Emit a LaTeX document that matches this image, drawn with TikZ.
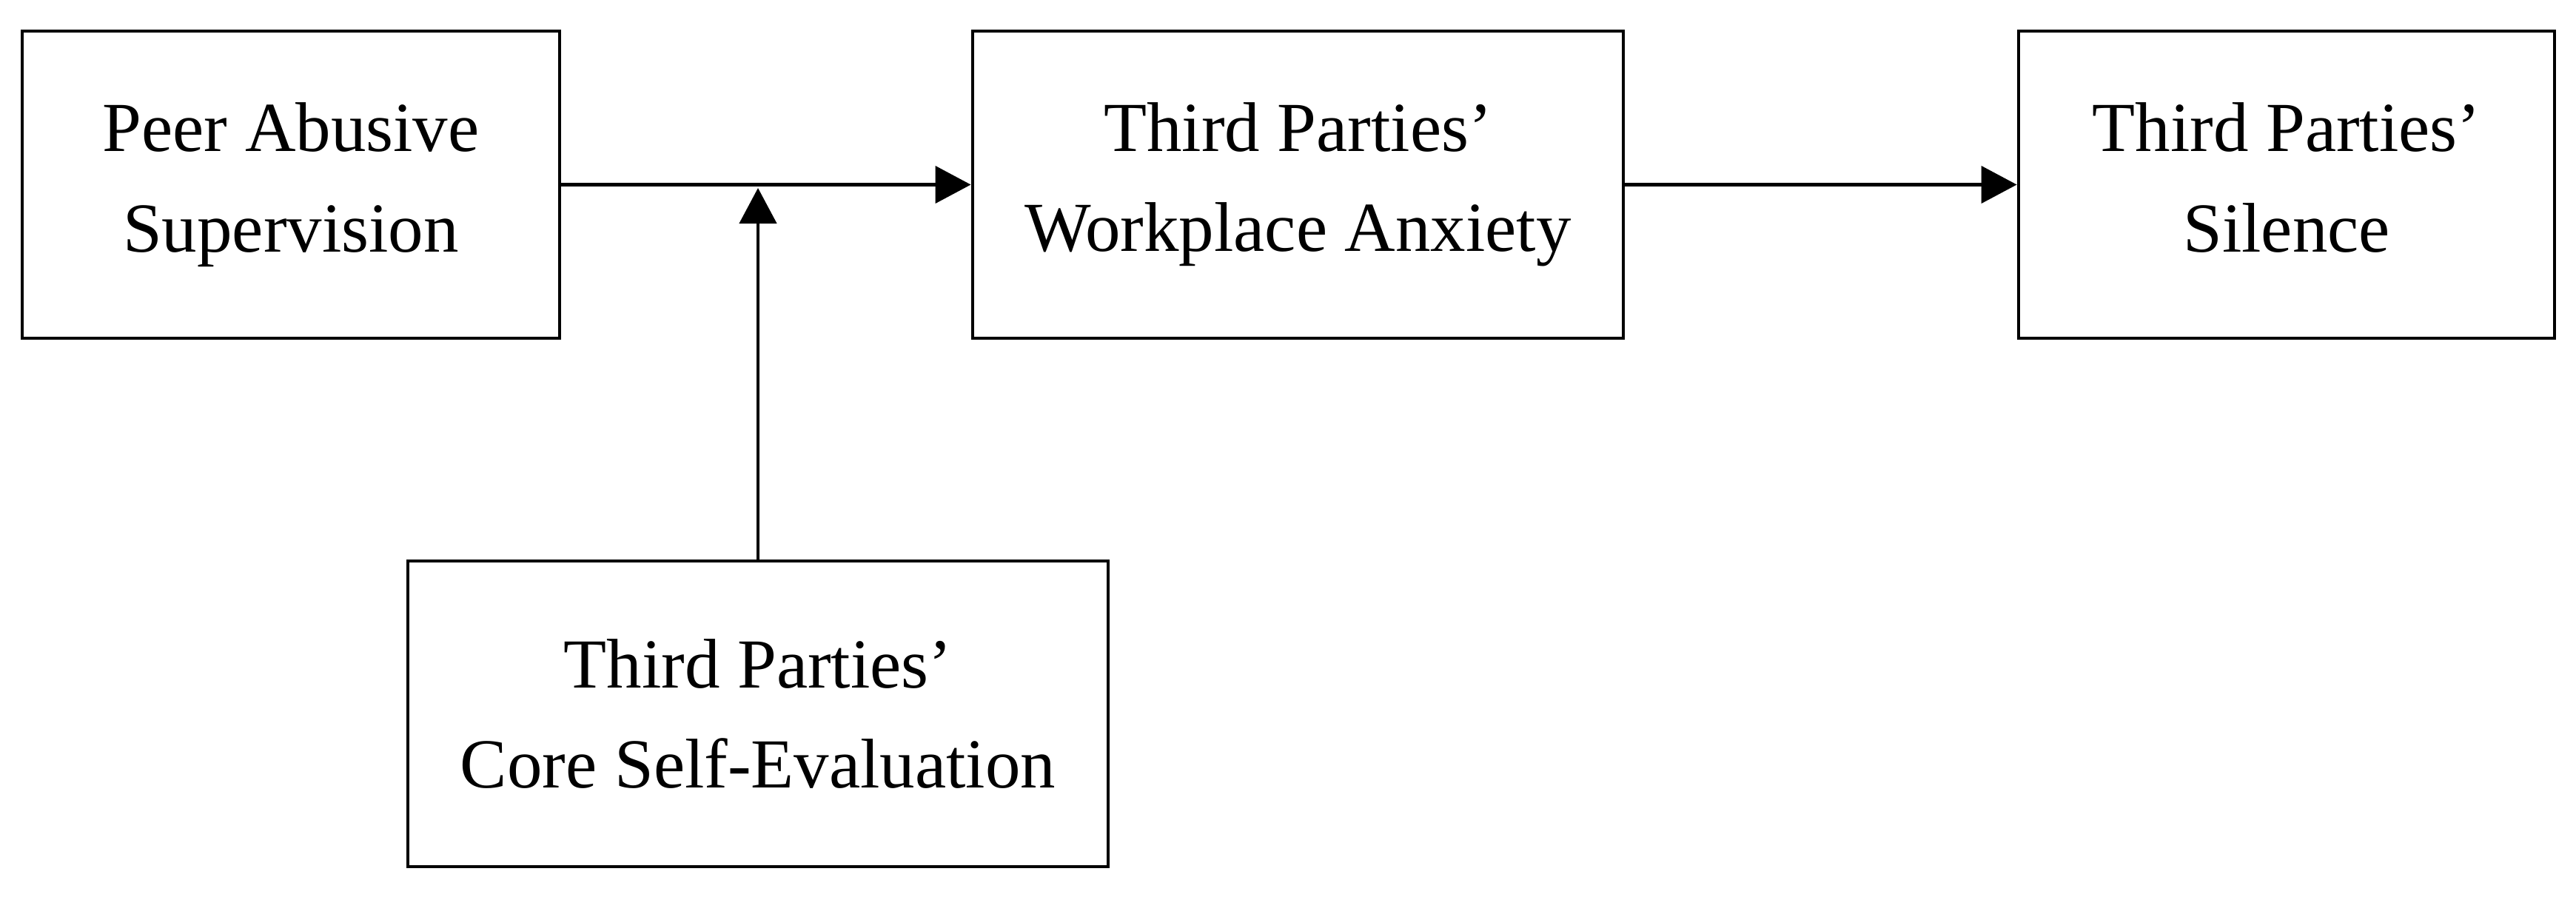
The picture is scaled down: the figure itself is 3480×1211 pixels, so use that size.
\documentclass[tikz,border=0pt]{standalone}
\usepackage{fontspec}
\setmainfont{Liberation Serif}
\usetikzlibrary{arrows.meta}
\begin{document}
\begin{tikzpicture}[x=0.01cm,y=-0.01cm,
  box/.style={draw=black, line width=1.25pt, rectangle, inner sep=0pt, align=center,
    minimum height=4.15cm, font=\fontsize{27pt}{38.5pt}\selectfont},
  conn/.style={line width=1.25pt, -{Triangle[length=0.48cm,width=0.5cm]}}]
\useasboundingbox (0,0) rectangle (3480,1211);
\node[box, minimum width=7.26cm] (b1) at (393,249.5) {Peer Abusive\\Supervision};
\node[box, minimum width=8.79cm] (b2) at (1753.5,249.5) {Third Parties’\\Workplace Anxiety};
\node[box, minimum width=7.24cm] (b3) at (3089,249.5) {Third Parties’\\Silence\vphantom{p}};
\node[box, minimum width=9.46cm, minimum height=4.13cm] (b4) at (1024,964.5) {Third Parties’\\Core Self-Evaluation};
\coordinate (m) at (1024,254);
\draw[conn] (b1.east) -- (b2.west);
\draw[conn] (b2.east) -- (b3.west);
\draw[conn] (b4.north) -- (m);
\end{tikzpicture}
\end{document}
